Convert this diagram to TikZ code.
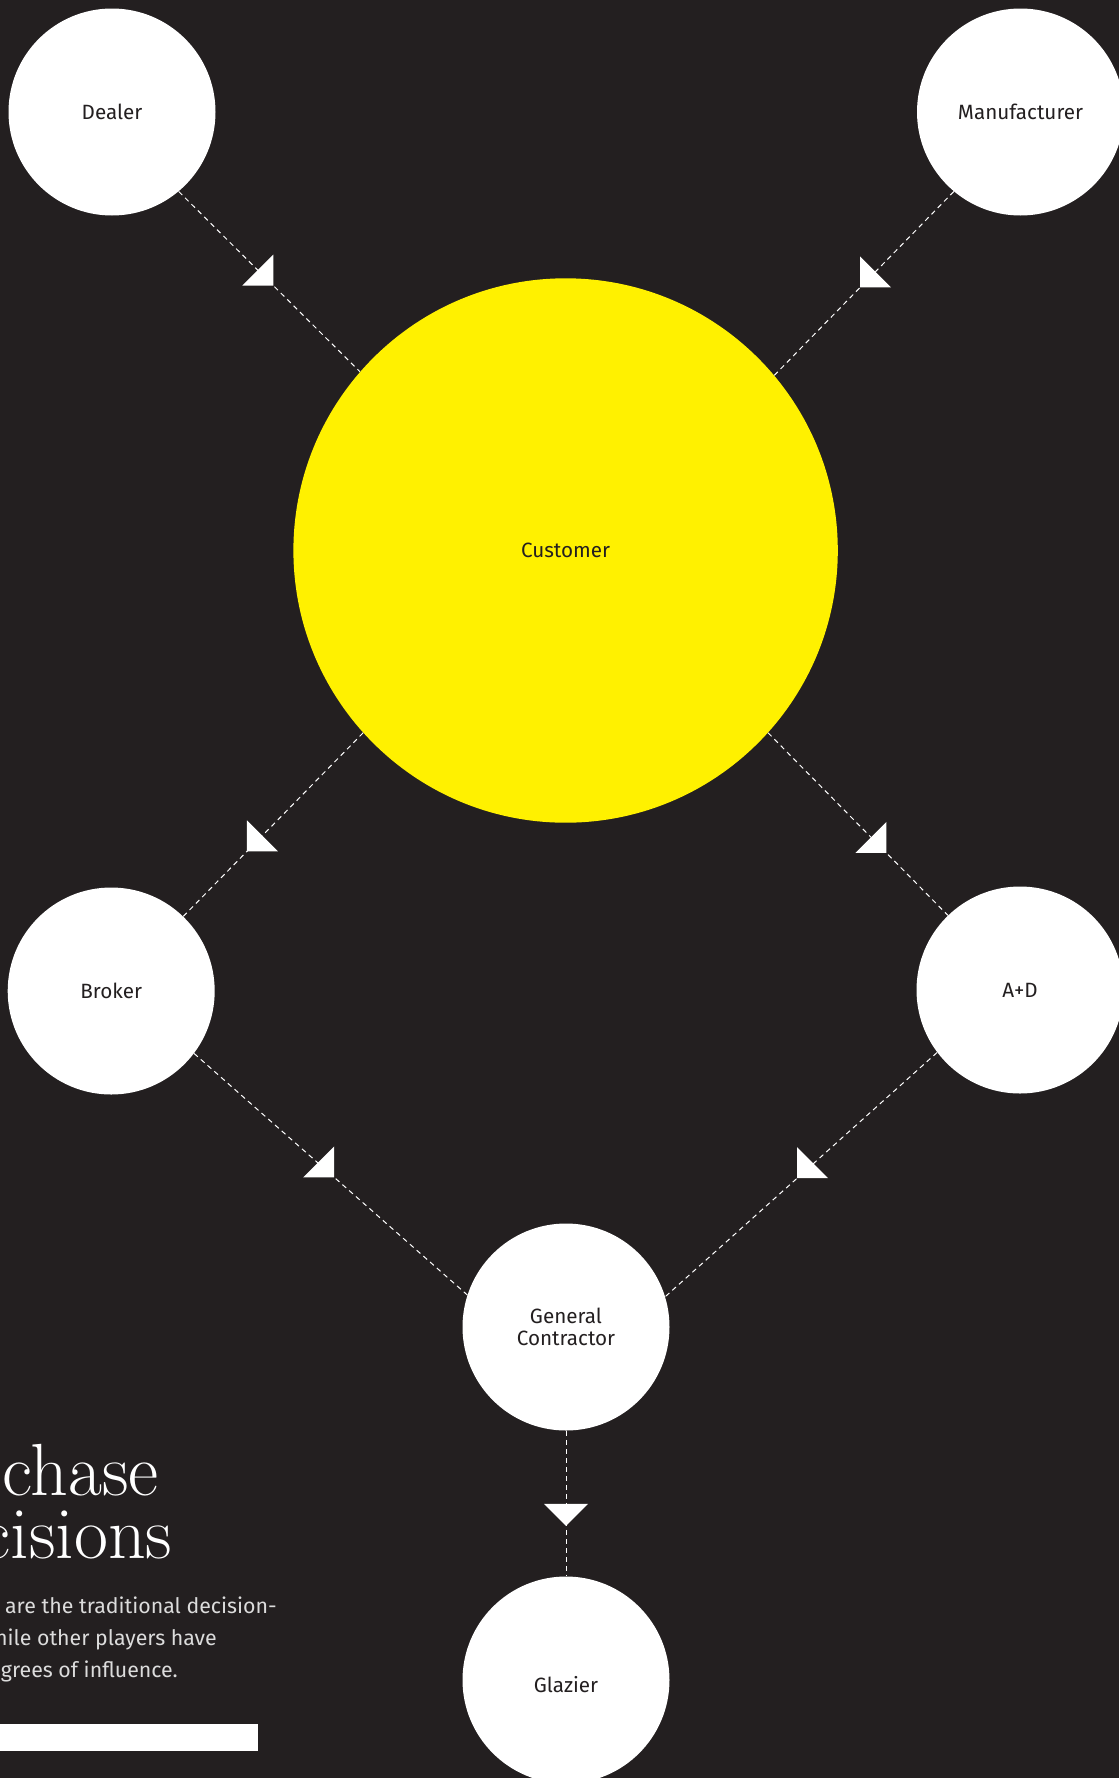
\documentclass[tikz,border=0pt]{standalone}
\usepackage{fontspec}
\setsansfont{Fira Sans}
\usetikzlibrary{calc}
\definecolor{bg}{HTML}{231F20}
\definecolor{sun}{HTML}{FFF100}
\definecolor{bodygray}{HTML}{DCDCDC}
\tikzset{
  actor/.style={circle, fill=white, draw=none, inner sep=0pt, minimum size=155.25pt,
    text=bg, font=\sffamily\fontsize{15.5}{16.5}\selectfont, align=center},
  hub/.style={actor, fill=sun, minimum size=408.3pt},
  flow/.style={draw=white, line width=0.75pt, dash pattern=on 3.75pt off 3pt},
  tipfill/.style={fill=white},
  headline/.style={anchor=base east, text=white, inner sep=0pt, font=\rmfamily\fontsize{55.4}{60}\selectfont},
  bodyline/.style={anchor=base east, text=bodygray, inner sep=0pt, font=\sffamily\fontsize{16}{24}\selectfont},
}
\begin{document}
\begin{tikzpicture}[x=0.75pt,y=-0.75pt]
\fill[bg] (0,0) rectangle (1119,1778);
\useasboundingbox (0,0) rectangle (1119,1778);

% nodes
\node[actor] (dealer) at (112,112) {Dealer};
\node[actor] (manuf) at (1020.5,112) {Manufacturer};
\node[hub] (customer) at (565.6,550.5) {Customer};
\node[actor] (broker) at (111.2,991) {Broker};
\node[actor] (ad) at (1020,990) {A+D};
\node[actor] (gc) at (566,1327) {General\\Contractor};
\node[actor, text height=18.3pt, text depth=0pt] (glazier) at (566,1680) {Glazier};

% connectors
\draw[flow] (dealer.-50) -- coordinate[pos=0.522] (t1) (customer.139.2);
\fill[tipfill] (t1) -- ++(0,-31) -- ++(-31,31) -- cycle;

\draw[flow] (manuf.230.3) -- coordinate[pos=0.522] (t2) (customer.40.8);
\fill[tipfill] (t2) -- ++(0,-31) -- ++(31,31) -- cycle;

\draw[flow] (customer.222.3) -- coordinate[pos=0.646] (t3) (broker.46.2);
\fill[tipfill] (t3) -- ++(0,-31) -- ++(31,31) -- cycle;

\draw[flow] (customer.-42.3) -- coordinate[pos=0.658] (t4) (ad.134.2);
\fill[tipfill] (t4) -- ++(0,-31) -- ++(-31,31) -- cycle;

\draw[flow] (broker.-37.2) -- coordinate[pos=0.513] (t5) (gc.162.6);
\fill[tipfill] (t5) -- ++(0,-31) -- ++(-31,31) -- cycle;

\draw[flow] (ad.217.2) -- coordinate[pos=0.515] (t6) (gc.17.4);
\fill[tipfill] (t6) -- ++(0,-31) -- ++(31,31) -- cycle;

\draw[flow] (gc.south) -- coordinate[pos=0.654] (t7) (glazier.north);
\fill[tipfill] (t7) -- ++(-22,-22) -- ++(44,0) -- cycle;

% text block
\node[headline] (h1) at (159,1495) {chase};
\node[headline] (h2) at (172.7,1558) {cisions};
\node[bodyline] (b1) at (277,1613) {are the traditional decision-};
\node[bodyline] (b2) at (217,1645) {hile other players have};
\node[bodyline] (b3) at (178,1677) {grees of influence.};
\fill[white] (0,1724) rectangle (258,1751);
\end{tikzpicture}
\end{document}
